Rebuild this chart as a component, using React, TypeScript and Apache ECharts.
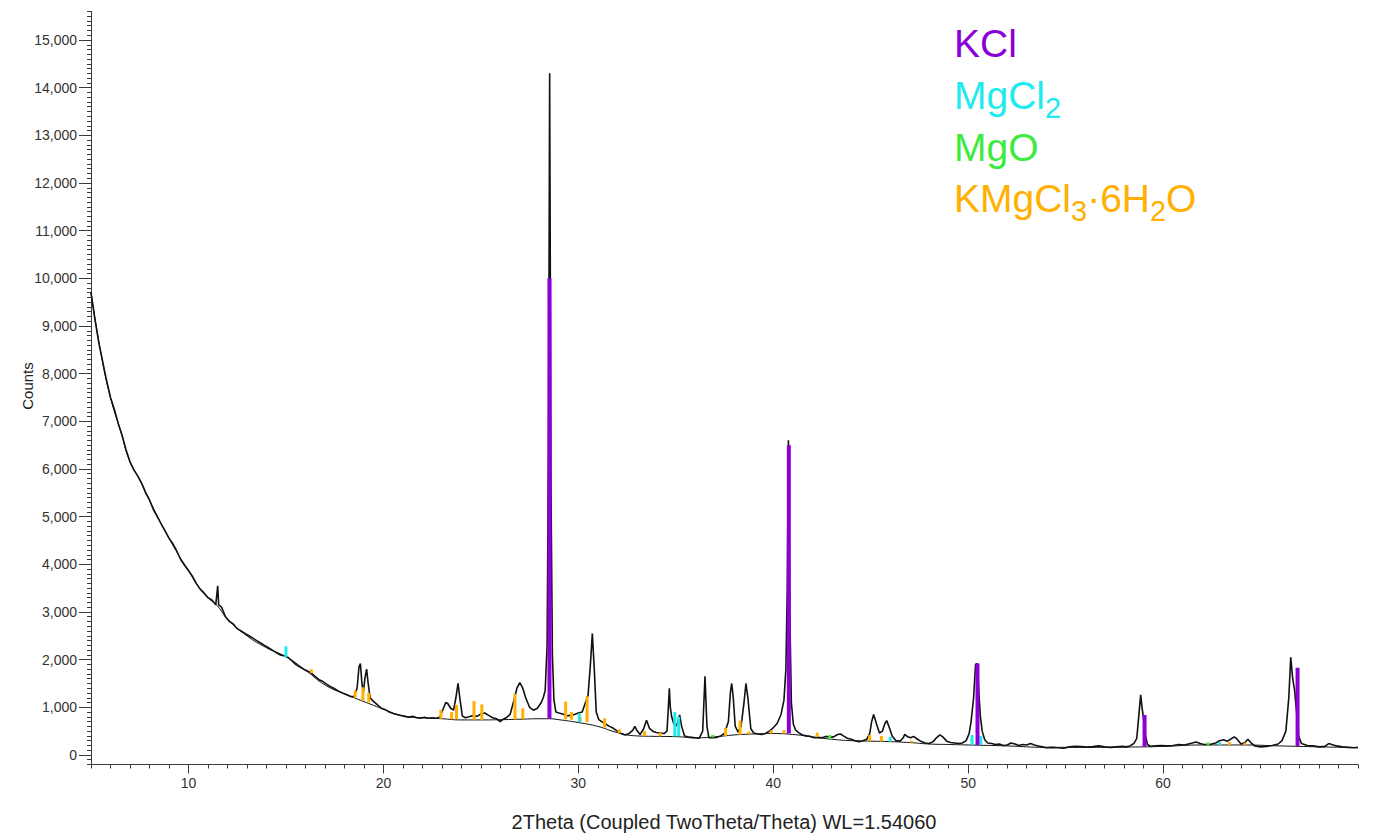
import React, { useEffect, useRef } from "react";
import * as echarts from "echarts";

// ---- measured XRD scan: [2Theta, Counts] ----
const scanLow: number[][] = [
  [5.0, 9700], [5.2, 9150], [5.4, 8650], [5.6, 8250], [5.8, 7850], [6.0, 7500], [6.2, 7250], [6.4, 6950],
  [6.6, 6700], [6.8, 6400], [7.0, 6150], [7.2, 5980], [7.4, 5850], [7.6, 5700], [7.8, 5500],
  [8.0, 5350], [8.2, 5150], [8.4, 5000], [8.6, 4850], [8.8, 4700], [9.0, 4550], [9.2, 4430], [9.4, 4280],
  [9.6, 4100], [9.8, 3980], [10.0, 3870], [10.2, 3750], [10.4, 3600], [10.6, 3480], [10.8, 3400], [11.0, 3300],
  [11.2, 3250], [11.4, 3150], [11.5, 3550], [11.55, 3150], [11.7, 3100], [11.9, 2900], [12.1, 2800], [12.3, 2750],
  [12.5, 2650], [12.7, 2600], [12.9, 2550], [13.1, 2500], [13.3, 2450], [13.5, 2400], [13.7, 2350], [13.9, 2300],
  [14.1, 2250], [14.3, 2200], [14.5, 2150], [14.7, 2100], [14.9, 2080], [15.1, 2050], [15.3, 1980], [15.5, 1900],
  [15.7, 1850], [15.9, 1800],
];
const scanMid: number[][] = [
  [16.1, 1760], [16.3, 1720], [16.5, 1650], [16.7, 1580], [16.9, 1540], [17.1, 1480], [17.3, 1430], [17.5, 1390],
  [17.7, 1340], [17.9, 1300], [18.1, 1270], [18.3, 1230], [18.5, 1220], [18.65, 1400], [18.75, 1850], [18.82, 1920],
  [18.9, 1500], [18.97, 1300], [19.05, 1600], [19.14, 1800], [19.22, 1500], [19.32, 1200], [19.45, 1140], [19.7, 1050],
  [19.9, 980], [20.1, 950], [20.3, 900], [20.5, 870], [20.7, 850], [20.9, 830], [21.1, 810], [21.3, 790],
  [21.5, 810], [21.7, 780], [21.9, 770], [22.1, 790], [22.3, 770], [22.5, 780], [22.7, 770], [22.9, 790],
  [23.05, 950], [23.2, 1100], [23.3, 1080], [23.45, 980], [23.6, 940], [23.72, 1200], [23.83, 1500], [23.92, 1200],
  [24.05, 820], [24.2, 780], [24.4, 800], [24.6, 830], [24.8, 810], [25.0, 860], [25.2, 880], [25.4, 830],
  [25.6, 780], [25.8, 760], [26.0, 700], [26.1, 740], [26.3, 780], [26.5, 850], [26.7, 1150], [26.85, 1400],
  [27.0, 1520], [27.15, 1400], [27.3, 1200], [27.5, 1000], [27.7, 940], [27.9, 980], [28.1, 1100], [28.2, 1200],
  [28.3, 1350], [28.4, 2300], [28.47, 6500], [28.53, 14300], [28.6, 5500], [28.67, 2100], [28.75, 1150], [28.85, 900],
  [29.0, 880], [29.2, 860], [29.4, 820], [29.6, 830], [29.8, 850], [30.0, 880], [30.2, 900], [30.35, 1080],
  [30.5, 1250], [30.62, 1900], [30.72, 2550], [30.82, 1800], [30.92, 900], [31.05, 740], [31.2, 700], [31.4, 650],
  [31.6, 600], [31.8, 560], [32.0, 500], [32.2, 450], [32.4, 420], [32.6, 450], [32.8, 520], [32.9, 600],
  [33.0, 520], [33.17, 430], [33.35, 550], [33.5, 730], [33.65, 560], [33.85, 490], [34.0, 470], [34.2, 460],
  [34.4, 450], [34.55, 500], [34.62, 1000], [34.67, 1400], [34.72, 1000], [34.79, 800], [34.9, 650], [35.0, 600],
  [35.1, 680], [35.2, 840], [35.3, 600], [35.45, 400], [35.6, 380], [35.8, 370], [36.0, 360], [36.2, 350],
  [36.38, 500], [36.5, 1650], [36.6, 600], [36.7, 360], [36.9, 360], [37.1, 370], [37.3, 400], [37.5, 450],
  [37.7, 700], [37.8, 1300], [37.87, 1500], [37.95, 1200], [38.05, 600], [38.2, 480], [38.35, 600], [38.5, 1100],
  [38.6, 1500], [38.7, 1200], [38.85, 550], [39.0, 460], [39.2, 440], [39.4, 430], [39.6, 450], [39.8, 500],
];
const scanHigh: number[][] = [
  [40.0, 570], [40.2, 660], [40.4, 850], [40.55, 1150], [40.65, 1800], [40.72, 3500], [40.78, 6600], [40.85, 3000],
  [40.93, 1100], [41.03, 650], [41.15, 520], [41.3, 470], [41.5, 420], [41.7, 400], [41.9, 390], [42.1, 360],
  [42.3, 370], [42.5, 360], [42.7, 390], [42.9, 370], [43.1, 380], [43.3, 430], [43.45, 440], [43.6, 400],
  [43.8, 350], [44.0, 330], [44.2, 300], [44.4, 280], [44.6, 300], [44.8, 330], [44.95, 450], [45.05, 700],
  [45.15, 850], [45.3, 650], [45.45, 460], [45.6, 500], [45.72, 650], [45.82, 720], [45.95, 580], [46.1, 400],
  [46.3, 300], [46.5, 290], [46.65, 350], [46.75, 430], [46.9, 380], [47.05, 360], [47.2, 390], [47.4, 330],
  [47.6, 280], [47.8, 250], [48.0, 240], [48.2, 280], [48.4, 370], [48.55, 420], [48.7, 380], [48.9, 290],
  [49.1, 260], [49.3, 250], [49.5, 240], [49.7, 250], [49.9, 300], [50.05, 450], [50.15, 700], [50.28, 1200],
  [50.38, 1900], [50.47, 1920], [50.55, 1300], [50.63, 800], [50.72, 500], [50.85, 320], [51.0, 250], [51.2, 240],
  [51.4, 220], [51.6, 230], [51.8, 200], [52.0, 210], [52.2, 250], [52.4, 230], [52.6, 200], [52.8, 220],
  [53.0, 210], [53.2, 240], [53.4, 210], [53.6, 190], [53.8, 170], [54.0, 150], [54.3, 160], [54.6, 150],
  [54.9, 140], [55.2, 170], [55.5, 180], [55.8, 175], [56.1, 165], [56.4, 175], [56.7, 190], [57.0, 170],
  [57.3, 160], [57.6, 170], [57.9, 180], [58.1, 170], [58.3, 190], [58.5, 240], [58.65, 350], [58.75, 800],
  [58.85, 1260], [58.92, 1000], [59.0, 750], [59.1, 400], [59.2, 220], [59.35, 180], [59.6, 190], [59.9, 200],
  [60.2, 190], [60.5, 200], [60.8, 220], [61.1, 210], [61.4, 240], [61.7, 270], [61.9, 240], [62.1, 220],
  [62.4, 220], [62.7, 250], [62.9, 300], [63.1, 320], [63.3, 290], [63.5, 340], [63.65, 380], [63.8, 330],
  [64.0, 230], [64.2, 260], [64.35, 330], [64.5, 260], [64.7, 190], [65.0, 170], [65.3, 180], [65.6, 200],
  [65.9, 230], [66.1, 300], [66.3, 500], [66.45, 1200], [66.55, 2050], [66.65, 1600], [66.75, 1350], [66.85, 900],
  [66.95, 400], [67.1, 240], [67.4, 200], [67.7, 190], [68.0, 170], [68.3, 180], [68.5, 240], [68.65, 220],
  [68.9, 190], [69.2, 170], [69.5, 160], [69.8, 150], [70.0, 160],
];

// ---- fitted background: [2Theta, Counts] ----
const background: number[][] = [
  [5, 9700], [5.5, 8450], [6, 7500], [6.5, 6820], [7, 6150], [7.5, 5780], [8, 5350], [8.5, 4930], [9, 4550],
  [9.5, 4190], [10, 3870], [10.5, 3540], [11, 3300], [11.5, 3120], [12, 2850], [13, 2500],
  [14, 2250], [15, 2060], [16, 1780], [17, 1470], [18, 1280], [18.5, 1200], [19, 1120], [19.5, 1040], [20, 960],
  [21, 820], [22, 780], [23, 760], [24, 735], [25, 735], [26, 740], [27, 750], [28, 760], [28.5, 760], [29, 740],
  [30, 680], [31, 600], [32, 470], [33, 400], [34, 390], [35, 385], [36, 360], [37, 380], [38, 420], [39, 440],
  [40, 450], [41, 430], [42, 380], [43, 330], [44, 300], [45, 290], [46, 280], [47, 260], [48, 230], [49, 220],
  [50, 210], [52, 190], [54, 160], [56, 160], [58, 165], [60, 180], [62, 210], [64, 210], [66, 190], [68, 170],
  [70, 155],
];

// ---- phase reference sticks: [2Theta, base, top] ----
const kclSticks: number[][] = [
  [28.52, 760, 10000], [40.8, 450, 6500], [50.48, 210, 1920], [59.05, 170, 840], [66.9, 190, 1830],
];
const mgcl2Sticks: number[][] = [
  [15.0, 2050, 2280], [30.05, 690, 870], [34.95, 390, 900], [35.15, 390, 800], [46.0, 280, 380],
  [50.2, 210, 420], [50.65, 210, 400], [62.9, 210, 270],
];
const mgoSticks: number[][] = [
  [42.9, 330, 420], [62.3, 210, 260], [36.9, 370, 420],
];
const kmgSticks: number[][] = [
  [16.3, 1720, 1800], [18.55, 1200, 1350], [18.95, 1140, 1420], [19.25, 1100, 1300], [22.95, 760, 950],
  [23.5, 750, 900], [23.75, 750, 1050], [24.65, 740, 1130], [25.05, 735, 1060], [26.75, 745, 1280],
  [27.15, 750, 980], [29.35, 750, 1120], [29.65, 740, 900], [30.1, 700, 800], [30.45, 690, 1230],
  [31.35, 580, 770], [32.1, 460, 540], [33.4, 395, 500], [34.2, 390, 470], [37.55, 400, 570],
  [38.3, 425, 720], [38.75, 435, 490], [39.9, 450, 520], [40.55, 450, 520], [42.25, 380, 470],
  [44.95, 290, 420], [45.55, 285, 400], [47.1, 260, 300], [63.4, 210, 270], [64.2, 210, 260],
];

const yMajorTicks = { min: 0, max: 15000, step: 1000 };
const xMajorTicks = { min: 10, max: 70, step: 10 };

const FONT = '"Liberation Sans", Arial, sans-serif';

function stickSeries(name: string, data: number[][], color: string, width: number) {
  return {
    name,
    type: "custom",
    xAxisIndex: 0,
    yAxisIndex: 0,
    z: 4,
    data,
    encode: { x: 0, y: [1, 2] },
    renderItem: (_p: any, api: any) => {
      const x = api.value(0);
      const b = api.coord([x, api.value(1)]);
      const t = api.coord([x, api.value(2)]);
      return {
        type: "rect",
        shape: { x: b[0] - width / 2, y: t[1], width, height: b[1] - t[1] },
        style: { fill: color },
      };
    },
  };
}

export default function App() {
  const ref = useRef<HTMLDivElement>(null);
  useEffect(() => {
    if (!ref.current) return;
    const chart = echarts.init(ref.current, undefined, { renderer: "svg" });
    const canvas = document.createElement("canvas");
    const ctx = canvas.getContext("2d")!;
    const measure = (s: string, size: number) => {
      ctx.font = `${size}px "Liberation Sans"`;
      return ctx.measureText(s).width;
    };

    const big = 39;
    const small = 29;
    const lx = 954;
    const legendText = (text: string, x: number, y: number, size: number, color: string) => ({
      type: "text",
      x,
      y,
      style: { text, fontSize: size, fontFamily: FONT, fill: color, align: "left", verticalAlign: "middle" },
    });
    const purple = "#8B00D6";
    const cyan = "#1FEAF0";
    const green = "#3FEA3F";
    const orange = "#FFB000";

    const legend: any[] = [];
    legend.push(legendText("KCl", lx, 43.5, big, purple));
    legend.push(legendText("MgCl", lx, 95.5, big, cyan));
    legend.push(legendText("2", lx + measure("MgCl", big), 107.5, small, cyan));
    legend.push(legendText("MgO", lx, 147.5, big, green));
    let cx = lx;
    legend.push(legendText("KMgCl", cx, 198.5, big, orange));
    cx += measure("KMgCl", big);
    legend.push(legendText("3", cx, 210.5, small, orange));
    cx += measure("3", small);
    legend.push(legendText("\u00b76H", cx, 198.5, big, orange));
    cx += measure("\u00b76H", big);
    legend.push(legendText("2", cx, 210.5, small, orange));
    cx += measure("2", small);
    legend.push(legendText("O", cx, 198.5, big, orange));

    const axisColor = "#3a3a3a";
    const option: any = {
      animation: false,
      backgroundColor: "#ffffff",
      grid: [
        { left: 91, right: 18, top: 11.4, bottom: 68.5 },
        { left: 91, right: 18, top: 40, bottom: 78 },
        { left: 188.5, right: 18, top: 11.4, bottom: 68.5 },
      ],
      xAxis: [
        {
          type: "value", gridIndex: 0, min: 5, max: 70, interval: 1,
          axisLine: { show: true, onZero: false, lineStyle: { color: axisColor, width: 1 } },
          axisTick: { show: true, length: 4, lineStyle: { color: axisColor } },
          axisLabel: { show: false }, splitLine: { show: false },
        },
        { type: "value", gridIndex: 1, min: 0, max: 1, show: false },
        {
          type: "value", gridIndex: 2, min: xMajorTicks.min, max: xMajorTicks.max, interval: xMajorTicks.step,
          axisLine: { show: false, onZero: false },
          axisTick: { show: true, length: 9, lineStyle: { color: axisColor } },
          axisLabel: { show: true, margin: 11, fontSize: 14, color: "#333", fontFamily: FONT, showMaxLabel: false },
          splitLine: { show: false },
        },
      ],
      yAxis: [
        {
          type: "value", gridIndex: 0, min: -200, max: 15600, interval: 100,
          axisLine: { show: true, onZero: false, lineStyle: { color: axisColor, width: 1 } },
          axisTick: { show: true, length: 4, lineStyle: { color: axisColor } },
          axisLabel: { show: false }, splitLine: { show: false },
        },
        {
          type: "value", gridIndex: 1, min: yMajorTicks.min, max: yMajorTicks.max, interval: yMajorTicks.step,
          axisLine: { show: false, onZero: false },
          axisTick: { show: true, length: 12, lineStyle: { color: axisColor } },
          axisLabel: {
            show: true, margin: 14, fontSize: 14, color: "#333", fontFamily: FONT,
            formatter: (v: number) => v.toLocaleString("en-US"),
          },
          splitLine: { show: false },
        },
        { type: "value", gridIndex: 2, min: 0, max: 1, show: false },
      ],
      graphic: [
        ...legend,
        {
          type: "text", x: 27, y: 386, rotation: Math.PI / 2,
          style: { text: "Counts", fontSize: 15, fontFamily: FONT, fill: "#222", align: "center", verticalAlign: "middle" },
        },
        {
          type: "text", x: 724, y: 822,
          style: { text: "2Theta (Coupled TwoTheta/Theta) WL=1.54060", fontSize: 20, fontFamily: FONT, fill: "#222", align: "center", verticalAlign: "middle" },
        },
      ],
      series: [
        {
          name: "Background", type: "line", xAxisIndex: 0, yAxisIndex: 0, data: background,
          smooth: true, showSymbol: false, z: 2, lineStyle: { color: "#111", width: 1 },
        },
        {
          name: "Scan", type: "line", xAxisIndex: 0, yAxisIndex: 0,
          data: [...scanLow, ...scanMid, ...scanHigh],
          showSymbol: false, z: 3, lineStyle: { color: "#111", width: 1.6 },
        },
        stickSeries("KMgCl3·6H2O", kmgSticks, orange, 3),
        stickSeries("MgO", mgoSticks, green, 3),
        stickSeries("MgCl2", mgcl2Sticks, cyan, 3),
        stickSeries("KCl", kclSticks, purple, 4),
      ],
    };
    chart.setOption(option);
    return () => chart.dispose();
  }, []);
  return (
    <div
      ref={ref}
      style={{ position: "fixed", left: 0, top: 0, width: 1376, height: 833, background: "#fff" }}
    />
  );
}
